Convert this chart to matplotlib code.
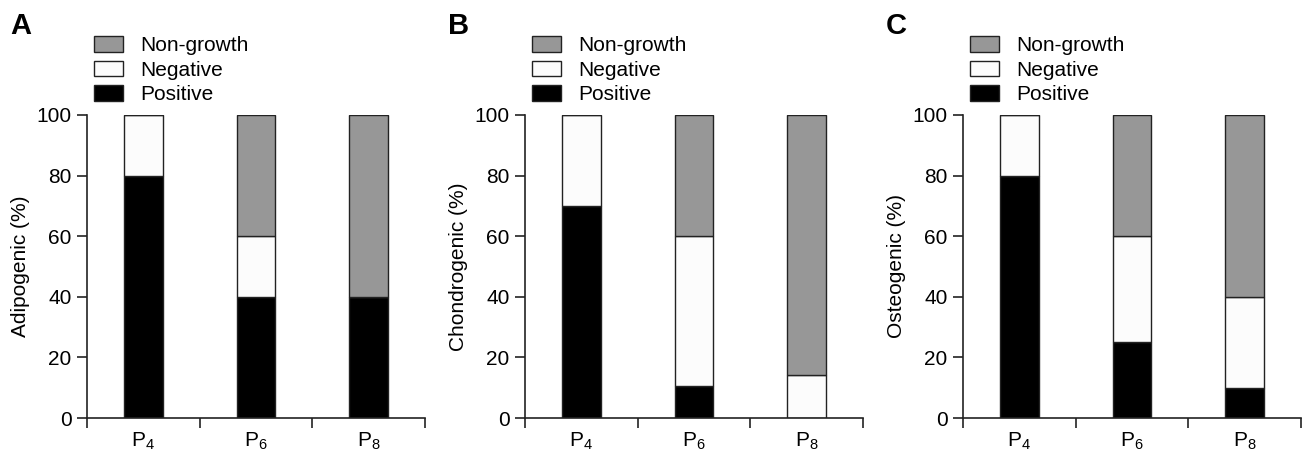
import matplotlib
matplotlib.use("Agg")
import matplotlib.pyplot as plt
from matplotlib.patches import Patch
import numpy as np

plt.rcParams["font.family"] = ["Liberation Sans", "DejaVu Sans"]
plt.rcParams["mathtext.default"] = "regular"

# Veri
passages = ["P$_4$", "P$_6$", "P$_8$"]
panel_letters = ["A", "B", "C"]
y_labels = ["Adipogenic (%)", "Chondrogenic (%)", "Osteogenic (%)"]

adipo_positive = [80, 40, 40]
adipo_negative = [20, 20, 0]
adipo_nongrowth = [0, 40, 60]

chondro_positive = [70, 10.5, 0]
chondro_negative = [30, 49.5, 14.3]
chondro_nongrowth = [0, 40, 85.7]

osteo_positive = [80, 25, 10]
osteo_negative = [20, 35, 30]
osteo_nongrowth = [0, 40, 60]

panels = [
    (adipo_positive, adipo_negative, adipo_nongrowth),
    (chondro_positive, chondro_negative, chondro_nongrowth),
    (osteo_positive, osteo_negative, osteo_nongrowth),
]

c_pos = "black"
c_neg = "#fcfcfc"
c_non = "#979797"
edge = "#222222"
fs = 15

W, H = 1308, 455
fig = plt.figure(figsize=(W / 100, H / 100), dpi=100)

ax_left = [87, 525, 963]   # piksel
ax_w, ax_top, ax_bot = 338, 115, 418

for i, (pos, neg, non) in enumerate(panels):
    ax = fig.add_axes([ax_left[i] / W, 1 - ax_bot / H, ax_w / W, (ax_bot - ax_top) / H])
    x = np.arange(3) + 0.5
    pos = np.array(pos)
    neg = np.array(neg)
    non = np.array(non)
    bw = 0.345
    ax.bar(x, pos, bw, color=c_pos, edgecolor=edge, linewidth=1)
    ax.bar(x, neg, bw, bottom=pos, color=c_neg, edgecolor=edge, linewidth=1)
    ax.bar(x, non, bw, bottom=pos + neg, color=c_non, edgecolor=edge, linewidth=1)

    ax.set_xlim(0, 3)
    ax.set_ylim(0, 100)
    ax.spines["top"].set_visible(False)
    ax.spines["right"].set_visible(False)
    for s in ["left", "bottom"]:
        ax.spines[s].set_linewidth(1.2)
        ax.spines[s].set_color("#222222")
    ax.set_yticks([0, 20, 40, 60, 80, 100])
    ax.set_xticks([0, 1, 2, 3])
    ax.set_xticklabels([])
    ax.set_xticks(x, minor=True)
    ax.set_xticklabels(passages, minor=True)
    ax.tick_params(axis="x", which="minor", length=0, pad=9, labelsize=fs)
    ax.tick_params(axis="x", which="major", length=7, width=1.2, color="#222222")
    ax.tick_params(axis="y", length=7, width=1.2, color="#222222", labelsize=fs, pad=4)
    ax.set_ylabel(y_labels[i], fontsize=fs, labelpad=5)

    handles = [
        Patch(facecolor=c_non, edgecolor=edge, linewidth=1, label="Non-growth"),
        Patch(facecolor=c_neg, edgecolor=edge, linewidth=1, label="Negative"),
        Patch(facecolor=c_pos, edgecolor=edge, linewidth=1, label="Positive"),
    ]
    lx = ax_left[i] + 7
    fig.legend(handles=handles, loc="upper left",
               bbox_to_anchor=(lx / W, 1 - 36 / H), bbox_transform=fig.transFigure,
               frameon=False, fontsize=fs, handlelength=1.4, handleheight=0.78,
               handletextpad=0.8, labelspacing=0.26, borderpad=0, borderaxespad=0)

    fig.text((ax_left[i] - 77) / W, 1 - 12 / H, panel_letters[i], fontsize=21,
             fontweight="bold", va="top", ha="left")

fig.savefig("out.png", dpi=100)
